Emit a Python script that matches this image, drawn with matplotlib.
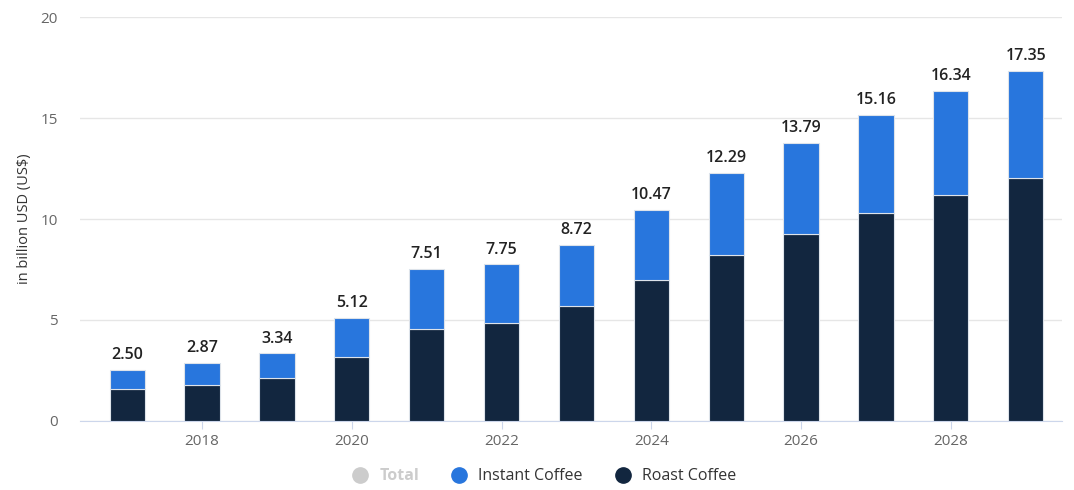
import matplotlib.pyplot as plt
from matplotlib.lines import Line2D
import numpy as np

years = [2017, 2018, 2019, 2020, 2021, 2022, 2023, 2024, 2025, 2026, 2027, 2028, 2029]
totals = [2.50, 2.87, 3.34, 5.12, 7.51, 7.75, 8.72, 10.47, 12.29, 13.79, 15.16, 16.34, 17.35]
roast = [1.60, 1.80, 2.12, 3.19, 4.56, 4.87, 5.70, 6.98, 8.20, 9.28, 10.31, 11.21, 12.02]
instant = [t - r for t, r in zip(totals, roast)]

c_instant = '#2876dd'
c_roast = '#12263f'

plt.rcParams['font.family'] = ['Open Sans', 'DejaVu Sans']

fig = plt.figure(figsize=(10.74, 4.9), dpi=100)
ax = fig.add_axes([0.0745, 0.141, 0.914, 0.824])

w = 0.47
ax.bar(years, roast, width=w, color=c_roast, edgecolor='#dde3ea', linewidth=0.8, zorder=3)
ax.bar(years, instant, width=w, bottom=roast, color=c_instant, edgecolor='#dde3ea', linewidth=0.8, zorder=3)

for x, t in zip(years, totals):
    ax.annotate('{:.2f}'.format(t), (x, t), xytext=(0, 5), textcoords='offset points',
                ha='center', va='bottom', fontsize=11.5, fontweight='semibold', color='#222222')

ax.set_xlim(2016.37, 2029.48)
ax.set_ylim(0, 20)
ax.set_yticks([0, 5, 10, 15, 20])
ax.set_xticks([2018, 2020, 2022, 2024, 2026, 2028])
ax.yaxis.grid(True, color='#e6e6e6', linewidth=1, zorder=0)
ax.set_axisbelow(True)

for s in ['top', 'right', 'left']:
    ax.spines[s].set_visible(False)
ax.spines['bottom'].set_color('#ccd6eb')
ax.tick_params(axis='y', length=0, pad=16, labelsize=11, labelcolor='#666666')
ax.tick_params(axis='x', length=6, color='#ccd6eb', labelsize=11, labelcolor='#666666')
ax.set_ylabel('in billion USD (US$)', fontsize=10.5, color='#333333', labelpad=6)

handles = [
    Line2D([], [], marker='o', linestyle='', markersize=11, color='#cccccc'),
    Line2D([], [], marker='o', linestyle='', markersize=11, color=c_instant),
    Line2D([], [], marker='o', linestyle='', markersize=11, color=c_roast),
]
leg = fig.legend(handles, ['Total', 'Instant Coffee', 'Roast Coffee'], loc='lower center',
                 bbox_to_anchor=(0.503, -0.018), ncol=3, frameon=False, fontsize=11.5,
                 handletextpad=0.2, columnspacing=1.5)
for txt, col in zip(leg.get_texts(), ['#cccccc', '#333333', '#333333']):
    txt.set_color(col)
    if col == '#cccccc':
        txt.set_fontweight('bold')

fig.savefig('out.png', dpi=100)
